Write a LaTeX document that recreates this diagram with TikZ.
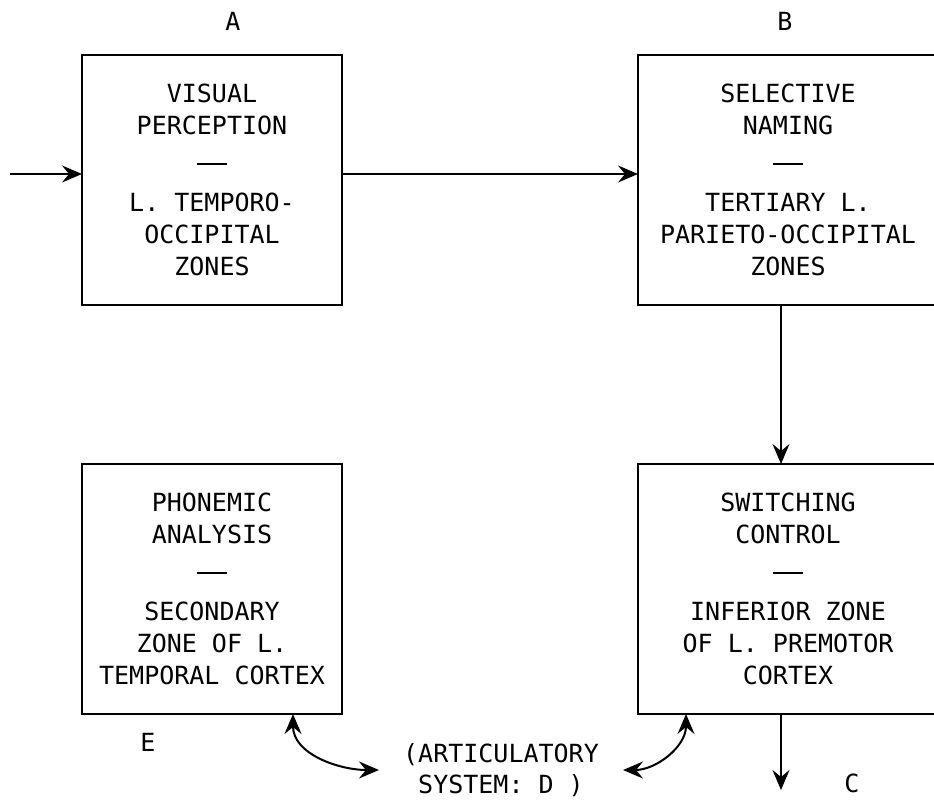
\documentclass[tikz,border=0pt]{standalone}
\usepackage{fontspec}
\setmonofont{DejaVu Sans Mono}
\usetikzlibrary{arrows.meta, positioning}
\newcommand{\dashbar}{\\[6pt]\rule[8pt]{30pt}{2pt}\\[7pt]}

\begin{document}
\begin{tikzpicture}[x=1pt, y=1pt, node distance=296pt, auto,
        >={Stealth[length=20pt, width=17pt, inset=7pt]}]
        \tikzstyle{block} = [rectangle, draw, line width=1.8pt, align=center,
            minimum width=260pt, minimum height=250pt, inner sep=0pt,
            outer sep=0pt, font=\ttfamily\fontsize{25}{32}\selectfont]
        \tikzstyle{wide} = [block, minimum width=300pt]
        \tikzstyle{tag} = [font=\ttfamily\fontsize{25}{31}\selectfont, inner sep=0pt]
        \tikzstyle{line} = [draw, ->, line width=2pt]

        \useasboundingbox (0,0) rectangle (934,-800);

        \node [block] (percept) at (212,-180)
            {VISUAL\\PERCEPTION\dashbar L. TEMPORO-\\OCCIPITAL\\ZONES};
        \node [wide, right=of percept] (naming)
            {SELECTIVE\\NAMING\dashbar TERTIARY L.\\PARIETO-OCCIPITAL\\ZONES};
        \node [block, below=159pt of percept] (phonemic)
            {PHONEMIC\\ANALYSIS\dashbar SECONDARY\\ZONE OF L.\\TEMPORAL CORTEX};
        \node [wide, right=of phonemic] (switching)
            {SWITCHING\\CONTROL\dashbar INFERIOR ZONE\\OF L. PREMOTOR\\CORTEX};

        \node [tag, above=24pt of percept, xshift=21pt] (labA) {A};
        \node [tag, above=24pt of naming, xshift=-3pt] (labB) {B};
        \node [tag, below=19pt of phonemic, xshift=-64pt] (labE) {E};
        \node [tag, below=60pt of switching, xshift=64pt] (labC) {C};
        \node [tag, align=center, inner xsep=24pt] (artic) at (501,-770)
            {(ARTICULATORY\\SYSTEM: D )};

        \coordinate (input) at (10,-174);
        \coordinate [below=76pt of switching.south, xshift=-7pt] (exit);

        \path [line] (input) -- ([yshift=6pt]percept.west);
        \path [line] ([yshift=6pt]percept.east) -- ([yshift=6pt]naming.west);
        \path [line] ([xshift=-7pt]naming.south) -- ([xshift=-7pt]switching.north);
        \path [line] ([xshift=-7pt]switching.south) -- (exit);
        \draw [<->, line width=2pt] ([xshift=-49pt]phonemic.south east)
            to[out=-90, in=180] (artic.west);
        \draw [<->, line width=2pt] ([xshift=48pt]switching.south west)
            to[out=-90, in=0] (artic.east);
    \end{tikzpicture}
\end{document}
